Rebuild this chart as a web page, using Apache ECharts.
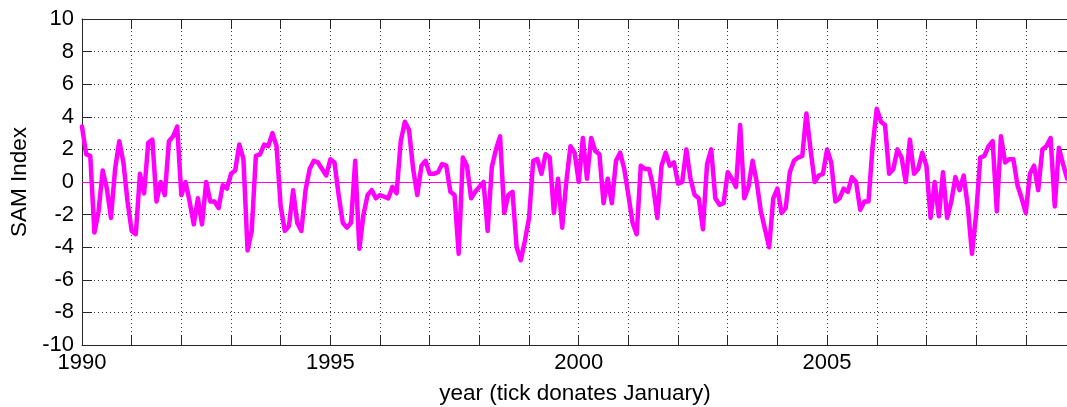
<!DOCTYPE html>
<html>
<head>
<meta charset="utf-8">
<title>SAM Index</title>
<script src="https://cdn.jsdelivr.net/npm/echarts@6/dist/echarts.min.js"></script>
<style>
  html, body { margin: 0; padding: 0; background: #ffffff; overflow: hidden; }
  #chart { width: 1067px; height: 407px; }
</style>
</head>
<body>
<div id="chart"></div>
<script>
// Monthly Southern Annular Mode index, one row per year starting January 1990
const startYear = 1990;
const samIndex = [
  3.4, 1.7, 1.6, -3.1, -1.8, 0.7, -0.4, -2.2, 0.8, 2.5, 1.2, -1.2,      // 1990
  -3.0, -3.2, 0.5, -0.7, 2.4, 2.6, -1.2, 0.0, -0.8, 2.5, 2.8, 3.4,      // 1991
  -0.8, 0.0, -1.2, -2.6, -1.0, -2.6, 0.0, -1.2, -1.2, -1.6, -0.2, -0.4, // 1992
  0.5, 0.7, 2.3, 1.4, -4.2, -3.0, 1.6, 1.7, 2.3, 2.2, 3.0, 2.2,         // 1993
  -1.5, -3.0, -2.7, -0.5, -2.5, -3.0, -0.5, 0.8, 1.3, 1.2, 0.8, 0.4,    // 1994
  1.4, 1.2, -0.8, -2.5, -2.8, -2.5, 1.3, -4.1, -2.0, -0.8, -0.5, -1.0,  // 1995
  -0.8, -0.9, -1.0, -0.3, -0.7, 2.5, 3.7, 3.2, 0.8, -0.8, 1.0, 1.3,     // 1996
  0.5, 0.5, 0.6, 1.1, 1.0, -0.6, -0.8, -4.4, 1.5, 1.0, -1.0, -0.6,      // 1997
  -0.3, 0.0, -3.0, 0.9, 2.0, 2.8, -1.9, -0.8, -0.6, -4.0, -4.8, -3.6,   // 1998
  -2.2, 1.3, 1.4, 0.5, 1.7, 1.5, -1.9, 0.2, -2.8, 0.0, 2.2, 1.8,        // 1999
  0.0, 2.7, 0.2, 2.7, 1.9, 1.7, -1.3, 0.2, -1.3, 1.3, 1.8, 0.8,         // 2000
  -0.8, -2.5, -3.2, 1.0, 0.8, 0.8, -0.3, -2.2, 1.0, 1.8, 1.0, 1.2,      // 2001
  -0.1, 0.0, 2.0, 0.2, -0.8, -1.0, -2.9, 1.1, 2.0, -1.0, -1.4, -1.3,    // 2002
  0.6, 0.2, -0.3, 3.5, -1.0, -0.3, 1.3, 0.0, -1.8, -2.9, -4.0, -1.0,    // 2003
  -0.4, -1.9, -1.6, 0.6, 1.3, 1.5, 1.6, 4.2, 2.0, 0.0, 0.4, 0.5,        // 2004
  2.0, 1.2, -1.2, -1.0, -0.4, -0.6, 0.3, 0.0, -1.7, -1.2, -1.2, 2.2,    // 2005
  4.5, 3.7, 3.5, 0.5, 0.8, 2.0, 1.5, 0.0, 2.6, 0.5, 0.8, 1.8,           // 2006
  1.0, -2.2, 0.0, -2.1, 0.6, -2.2, -1.2, 0.3, -0.5, 0.4, -1.5, -4.4,    // 2007
  -2.0, 1.5, 1.6, 2.2, 2.5, -1.8, 2.8, 1.2, 1.4, 1.4, -0.2, -1.0,       // 2008
  -1.9, 0.5, 1.0, -0.5, 2.0, 2.2, 2.7, -1.5, 2.1, 1.1, 0.2              // 2009
];

// Axis ranges and labels
const xRange = [1990, 2009.85];
const xTickLabels = ['1990', '1995', '2000', '2005'];
const yRange = [-10, 10];
const yStep = 2;
const xTitle = 'year (tick donates January)';
const yTitle = 'SAM Index';

const points = samIndex.map((v, i) => [startYear + i / 12, v]);

const FONT = '"Liberation Sans", Arial, Helvetica, sans-serif';
const AXIS_COLOR = '#262626';
const GRID_DOTS = { color: '#3a3a3a', width: 1, type: [1, 3] };

const chart = echarts.init(document.getElementById('chart'), null, { renderer: 'canvas' });

chart.setOption({
  animation: false,
  backgroundColor: '#ffffff',
  textStyle: { fontFamily: FONT },
  grid: { left: 82, top: 19, width: 986, height: 326, containLabel: false, outerBoundsMode: 'none' },
  xAxis: [
    {
      type: 'value',
      position: 'bottom',
      min: xRange[0],
      max: xRange[1],
      interval: 1,
      name: xTitle,
      nameLocation: 'middle',
      nameGap: 37,
      nameTextStyle: { color: '#000', fontSize: 22.5, fontFamily: FONT },
      axisLine: { show: true, onZero: false, lineStyle: { color: AXIS_COLOR, width: 1 } },
      axisTick: { show: true, inside: true, length: 10, lineStyle: { color: AXIS_COLOR, width: 1 } },
      axisLabel: {
        color: '#000',
        fontSize: 22,
        fontFamily: FONT,
        margin: 7,
        formatter: (v) => {
          const y = Math.round(v);
          return Math.abs(v - y) < 1e-6 && xTickLabels.includes(String(y)) ? String(y) : '';
        }
      },
      splitLine: { show: true, lineStyle: GRID_DOTS }
    },
    {
      type: 'value',
      position: 'top',
      min: xRange[0],
      max: xRange[1],
      interval: 1,
      axisLine: { show: true, onZero: false, lineStyle: { color: AXIS_COLOR, width: 1 } },
      axisTick: { show: true, inside: true, length: 10, lineStyle: { color: AXIS_COLOR, width: 1 } },
      axisLabel: { show: false },
      splitLine: { show: false }
    }
  ],
  yAxis: [
    {
      type: 'value',
      position: 'left',
      min: yRange[0],
      max: yRange[1],
      interval: yStep,
      name: yTitle,
      nameLocation: 'middle',
      nameGap: 48,
      nameRotate: 90,
      nameTextStyle: { color: '#000', fontSize: 22.5, fontFamily: FONT },
      axisLine: { show: true, onZero: false, lineStyle: { color: AXIS_COLOR, width: 1 } },
      axisTick: { show: true, inside: true, length: 10, lineStyle: { color: AXIS_COLOR, width: 1 } },
      axisLabel: { color: '#000', fontSize: 22, fontFamily: FONT, margin: 8 },
      splitLine: { show: true, lineStyle: GRID_DOTS }
    },
    {
      type: 'value',
      position: 'right',
      min: yRange[0],
      max: yRange[1],
      interval: yStep,
      axisLine: { show: true, onZero: false, lineStyle: { color: AXIS_COLOR, width: 1 } },
      axisTick: { show: true, inside: true, length: 10, lineStyle: { color: AXIS_COLOR, width: 1 } },
      axisLabel: { show: false },
      splitLine: { show: false }
    }
  ],
  series: [
    {
      name: yTitle,
      type: 'line',
      xAxisIndex: 0,
      yAxisIndex: 0,
      data: points,
      showSymbol: false,
      symbol: 'none',
      clip: true,
      z: 5,
      lineStyle: { color: '#ff00ff', width: 4.5, join: 'round', cap: 'round' },
      markLine: {
        silent: true,
        symbol: ['none', 'none'],
        label: { show: false },
        lineStyle: { color: '#ff00ff', width: 1.2, type: 'solid' },
        data: [{ yAxis: 0 }]
      }
    }
  ]
});
</script>
</body>
</html>
